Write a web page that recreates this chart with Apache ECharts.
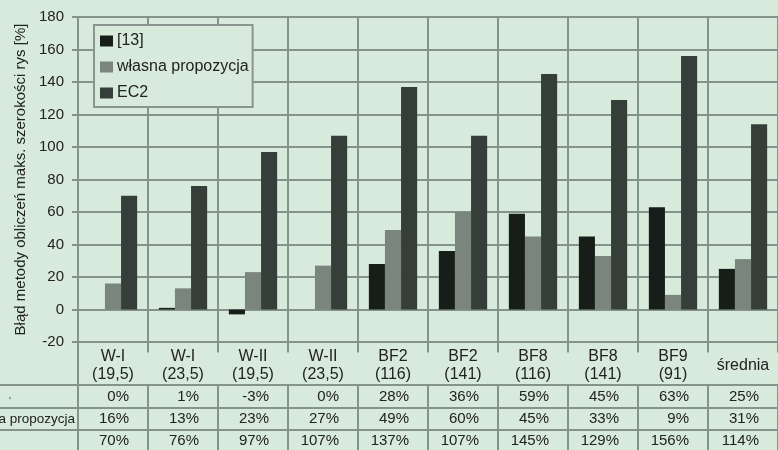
<!DOCTYPE html>
<html>
<head>
<meta charset="utf-8">
<script src="https://cdn.jsdelivr.net/npm/echarts@6/dist/echarts.min.js"></script>
<style>
html,body{margin:0;padding:0;background:#d7eadb;}
#c{width:778px;height:450px;}
</style>
</head>
<body>
<div id="c"></div>
<script>
const categories = ['W-I\n(19,5)', 'W-I\n(23,5)', 'W-II\n(19,5)', 'W-II\n(23,5)', 'BF2\n(116)', 'BF2\n(141)', 'BF8\n(116)', 'BF8\n(141)', 'BF9\n(91)', 'średnia'];
const seriesNames = ['[13]', 'własna propozycja', 'EC2'];
const values13 = [0, 1, -3, 0, 28, 36, 59, 45, 63, 25];
const valuesOwn = [16, 13, 23, 27, 49, 60, 45, 33, 9, 31];
const valuesEC2 = [70, 76, 97, 107, 137, 107, 145, 129, 156, 114];
const yTicks = { min: -20, max: 180, interval: 20 };
const axisTitle = 'Błąd metody obliczeń maks. szerokości rys [%]';

const FONT = '"Liberation Sans", Arial, sans-serif';
const GRID = '#84948b';
const TEXT = '#222';
const colors = ['#171e1a', '#7a857e', '#363e3a'];

function tableAxis(arr, offset, rowH) {
  return {
    type: 'category', data: categories, position: 'bottom', gridIndex: 0, offset: offset,
    axisLine: { show: false },
    axisTick: { show: true, interval: 0, length: rowH, lineStyle: { color: GRID, width: 2 } },
    splitLine: { show: false },
    axisLabel: {
      interval: 0, margin: Math.round(rowH / 2), verticalAlign: 'middle', align: 'center',
      formatter: (v, i) => '{v|' + arr[i] + '%}',
      rich: { v: { width: 32, align: 'right', fontSize: 15, fontFamily: FONT, color: TEXT } }
    }
  };
}

const chart = echarts.init(document.getElementById('c'), null, { renderer: 'canvas' });
chart.setOption({
  backgroundColor: '#d7eadb',
  animation: false,
  color: colors,
  textStyle: { fontFamily: FONT },
  grid: { left: 78, right: 0, top: 17, bottom: 108 },
  legend: {
    data: seriesNames, orient: 'vertical', left: 94, top: 25,
    backgroundColor: '#d7eadb', borderColor: '#8a968f', borderWidth: 2,
    padding: [8, 4, 6, 6], itemGap: 10, itemWidth: 13, itemHeight: 11,
    icon: 'rect',
    textStyle: { fontSize: 16, color: TEXT, fontFamily: FONT, padding: [0, 0, 0, -1] }
  },
  xAxis: [
    {
      type: 'category', data: categories, position: 'bottom',
      axisLine: { show: false },
      axisTick: { show: true, interval: 0, length: 43, lineStyle: { color: GRID, width: 2 } },
      splitLine: { show: true, interval: 0, lineStyle: { color: GRID, width: 2 } },
      axisLabel: { interval: 0, margin: 24, verticalAlign: 'middle', fontSize: 16, lineHeight: 18, color: TEXT, fontFamily: FONT }
    },
    tableAxis(values13, 43, 23),
    tableAxis(valuesOwn, 66, 22),
    tableAxis(valuesEC2, 88, 22)
  ],
  yAxis: {
    type: 'value', min: yTicks.min, max: yTicks.max, interval: yTicks.interval,
    name: axisTitle, nameLocation: 'middle', nameGap: 50,
    nameTextStyle: { fontSize: 15, color: TEXT, fontFamily: FONT },
    axisLine: { show: true, lineStyle: { color: GRID, width: 2 } },
    axisTick: { show: true, length: 6, lineStyle: { color: GRID, width: 2 } },
    splitLine: { show: true, lineStyle: { color: GRID, width: 2 } },
    axisLabel: { fontSize: 15, color: TEXT, margin: 14, fontFamily: FONT }
  },
  series: [
    { name: seriesNames[0], type: 'bar', data: values13, barGap: '0%', barCategoryGap: '31%' },
    { name: seriesNames[1], type: 'bar', data: valuesOwn, barGap: '0%', barCategoryGap: '31%' },
    { name: seriesNames[2], type: 'bar', data: valuesEC2, barGap: '0%', barCategoryGap: '31%' }
  ],
  graphic: [
    { type: 'rect', shape: { x: 0, y: 384, width: 778, height: 2 }, style: { fill: GRID }, silent: true },
    { type: 'rect', shape: { x: 0, y: 407, width: 778, height: 2 }, style: { fill: GRID }, silent: true },
    { type: 'rect', shape: { x: 0, y: 429, width: 778, height: 2 }, style: { fill: GRID }, silent: true },
    { type: 'rect', shape: { x: 77, y: 342, width: 2, height: 108 }, style: { fill: GRID }, silent: true },
    { type: 'text', x: 75, y: 419, style: { text: 'a propozycja', align: 'right', verticalAlign: 'middle', fontSize: 13.5, fill: TEXT, fontFamily: FONT }, silent: true },
    { type: 'circle', shape: { cx: 10, cy: 398, r: 1.2 }, style: { fill: '#9aa79f' }, silent: true }
  ]
});
</script>
</body>
</html>
